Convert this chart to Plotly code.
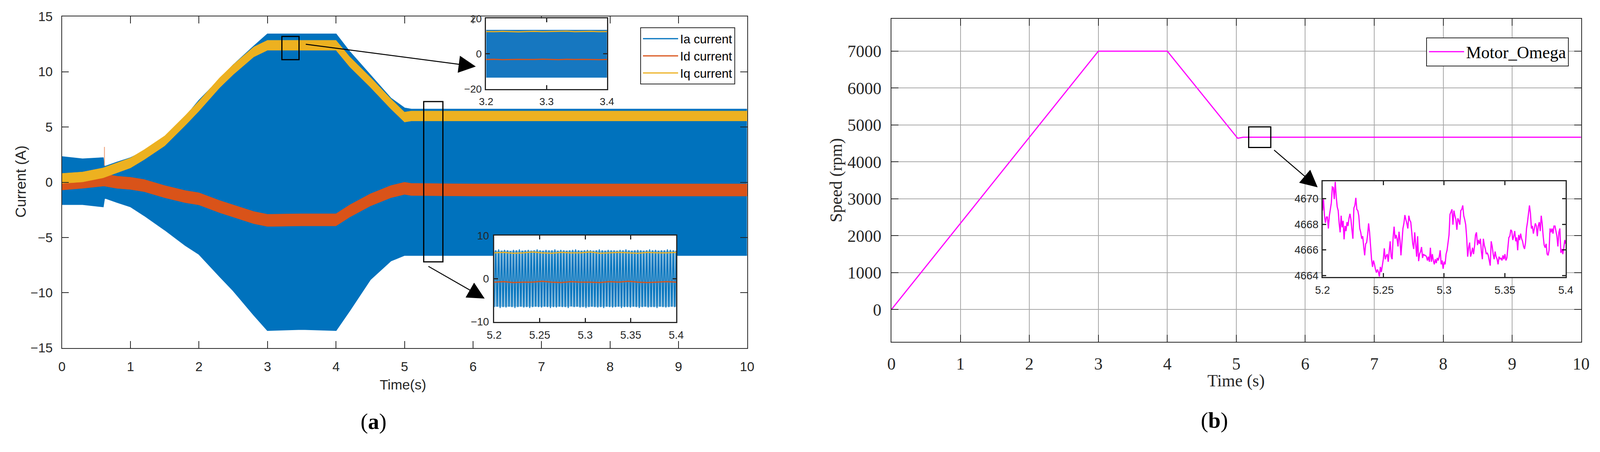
import numpy as np
import plotly.graph_objects as go

# ---------------------------------------------------------------------------
# data
# ---------------------------------------------------------------------------
# (a) phase / dq currents, envelope of the Ia band and centre of the Id, Iq bands
time_env = [0, 0.3, 0.6, 0.62, 0.8, 1.0, 1.2, 1.5, 1.8, 2.0, 2.3, 2.5, 2.8,
            3.0, 3.5, 4.0, 4.2, 4.5, 4.8, 5.0, 5.1, 6, 7, 8, 9, 10]
ia_upper = [2.3, 2.1, 2.2, 1.4, 1.8, 2.2, 2.8, 4.1, 5.9, 7.4, 9.3, 10.6, 12.3,
            13.4, 13.4, 13.4, 11.8, 9.7, 7.6, 6.7, 6.6, 6.6, 6.6, 6.6, 6.6, 6.6]
ia_lower = [-2.0, -2.0, -2.2, -1.4, -1.8, -2.2, -3.0, -4.3, -5.7, -6.5, -8.5, -9.8, -12.0,
            -13.4, -13.3, -13.4, -11.6, -8.8, -7.1, -6.6, -6.6, -6.6, -6.6, -6.6, -6.6, -6.6]
iq_mid = [0.35, 0.48, 0.85, 0.9, 1.3, 1.75, 2.5, 3.75, 5.6, 6.9, 9.0, 10.2, 11.8,
          12.4, 12.4, 12.4, 10.9, 9.06, 7.1, 5.9, 6.0, 6.0, 6.0, 6.0, 6.0, 6.0]
id_mid = [-0.15, 0.0, 0.2, 0.2, 0.0, -0.1, -0.3, -0.85, -1.3, -1.5, -2.2, -2.6, -3.2,
          -3.45, -3.4, -3.4, -2.6, -1.6, -0.85, -0.55, -0.65, -0.7, -0.7, -0.7, -0.7, -0.7]
iq_ripple = 0.45
id_ripple = 0.55
spike_t = [0.62, 0.62]
spike_val = [1.5, 3.2]

# (a) zoom 3.2 - 3.4 s
z1_t = [3.2, 3.4]
z1_ia_top = [13.5, 13.5]
z1_ia_bot = [-13.6, -13.6]
z1_iq = [12.6, 12.5, 12.7, 12.6, 12.4, 12.6, 12.7, 12.5, 12.6, 12.6, 12.8, 12.5, 12.6, 12.7, 12.5, 12.6]
z1_id = [-3.3, -3.2, -3.4, -3.3, -3.2, -3.3, -3.3, -3.1, -3.3, -3.4, -3.2, -3.3, -3.2, -3.3, -3.4, -3.3]

# (a) zoom 5.2 - 5.4 s : Ia peaks (positive / negative), Id, Iq
z2_t = [5.2, 5.4]
z2_ia_band_top = [6.5, 6.5]
z2_ia_band_bot = [-6.5, -6.5]
z2_ia_peaks_pos = [6.6, 6.8, 6.5, 6.7, 6.6, 6.4, 6.7, 6.6, 6.8, 6.5, 6.6, 6.7, 6.5, 6.6, 6.8, 6.6,
                   6.5, 6.7, 6.6, 6.6, 6.8, 6.5, 6.7, 6.6, 6.5, 6.6, 6.7, 6.8, 6.6, 6.5, 6.6, 6.7,
                   6.6, 6.5, 6.6, 6.8, 6.6, 6.5, 6.7, 6.6, 6.6, 6.5, 6.7, 6.6, 6.8, 6.6, 6.5, 6.6,
                   6.7, 6.6, 6.5, 6.6, 6.8, 6.6, 6.7, 6.5, 6.6, 6.6, 6.8, 6.7, 6.6, 6.5]
z2_ia_peaks_neg = [-6.6, -6.5, -6.8, -6.6, -6.7, -6.5, -6.6, -6.8, -6.6, -6.5, -6.7, -6.6, -6.8, -6.6,
                   -6.5, -6.6, -6.7, -6.5, -6.6, -6.8, -6.6, -6.7, -6.5, -6.6, -6.6, -6.8, -6.4, -6.6,
                   -6.5, -6.7, -6.6, -6.8, -6.6, -6.5, -6.6, -6.7, -6.6, -6.8, -6.5, -6.6, -6.7, -6.6,
                   -6.5, -6.8, -6.6, -6.6, -6.7, -6.5, -6.6, -6.8, -6.6, -6.5, -6.7, -6.6, -6.6, -6.8,
                   -6.5, -6.6, -6.7, -6.6, -6.5, -6.6]
z2_iq = [6.0, 6.1, 5.9, 6.0, 6.2, 6.0, 5.9, 6.1, 6.0, 6.0, 6.2, 5.9, 6.0, 6.1, 6.0, 5.9, 6.1, 6.0, 6.0, 6.1]
z2_id = [-0.8, -0.7, -0.9, -0.8, -0.8, -0.6, -0.8, -0.9, -0.7, -0.8, -0.8, -0.9, -0.7, -0.8, -0.6,
         -0.8, -0.9, -0.8, -0.7, -0.8]

# (b) motor speed
speed_t = [0, 3.0, 4.0, 5.02, 5.1, 10]
speed_rpm = [0, 7000, 7000, 4640, 4667, 4667]

# (b) zoom 5.2 - 5.4 s
zs_rpm = [
    4669.07, 4669.97, 4668.67, 4668.12, 4668.57, 4668.57, 4667.67, 4668.67, 4669.17, 4669.67,
    4670.92, 4670.87, 4669.97, 4671.32, 4670.17, 4669.37, 4669.07, 4668.07, 4667.37, 4668.67,
    4667.77, 4668.27, 4666.82, 4667.87, 4667.47, 4668.17, 4667.87, 4668.47, 4668.82, 4668.37,
    4667.57, 4666.87, 4669.27, 4669.47, 4670.07, 4669.17, 4669.07, 4668.67, 4667.67, 4667.37,
    4666.87, 4667.07, 4666.27, 4665.57, 4666.47, 4666.57, 4667.17, 4668.07, 4667.37, 4666.27,
    4665.27, 4664.67, 4665.17, 4664.87, 4664.47, 4664.22, 4664.47, 4664.27, 4663.92, 4664.67,
    4664.27, 4664.77, 4665.27, 4666.12, 4665.27, 4665.52, 4665.67, 4665.07, 4665.87, 4666.67,
    4665.47, 4665.27, 4666.97, 4667.82, 4666.87, 4667.17, 4666.87, 4666.27, 4667.42, 4666.77,
    4665.57, 4666.67, 4667.67, 4668.07, 4668.72, 4668.37, 4668.07, 4667.67, 4668.67, 4668.32,
    4668.17, 4667.37, 4666.47, 4666.07, 4667.37, 4666.47, 4665.47, 4667.07, 4665.12, 4665.67,
    4665.87, 4666.22, 4665.37, 4665.67, 4665.57, 4665.57, 4665.47, 4665.17, 4665.47, 4665.07,
    4666.17, 4665.07, 4665.67, 4665.17, 4664.87, 4665.27, 4664.97, 4665.37, 4665.17, 4665.47,
    4665.97, 4664.87, 4665.17, 4664.52, 4665.07, 4664.87, 4665.67, 4665.97, 4666.52, 4667.17,
    4668.77, 4668.97, 4669.17, 4667.97, 4669.07, 4668.67, 4668.37, 4667.57, 4668.47, 4668.27,
    4667.97, 4669.07, 4669.17, 4669.47, 4668.67, 4668.37, 4667.97, 4666.97, 4665.47, 4666.17,
    4666.57, 4665.47, 4665.77, 4666.17, 4665.67, 4666.27, 4667.17, 4667.37, 4666.37, 4666.77,
    4666.47, 4666.87, 4665.87, 4665.27, 4666.87, 4666.37, 4666.07, 4665.67, 4665.77, 4665.57,
    4665.17, 4664.77, 4666.67, 4666.27, 4665.67, 4665.27, 4665.87, 4665.47, 4665.27, 4664.87,
    4665.47, 4665.27, 4665.37, 4665.17, 4665.57, 4665.27, 4665.67, 4665.17, 4665.37, 4666.27,
    4666.97, 4667.07, 4667.57, 4667.47, 4666.77, 4667.07, 4667.47, 4666.67, 4666.97, 4665.97,
    4667.17, 4666.77, 4667.27, 4666.87, 4666.67, 4666.27, 4666.07, 4666.57, 4667.67, 4668.17,
    4668.87, 4669.47, 4668.87, 4667.67, 4667.87, 4667.27, 4667.67, 4668.07, 4667.87, 4667.07,
    4667.87, 4668.17, 4667.47, 4668.67, 4668.07, 4667.07, 4666.37, 4666.17, 4666.47, 4665.67,
    4665.57, 4665.97, 4667.67, 4667.37, 4667.67, 4667.27, 4667.87, 4667.87, 4667.47, 4667.07,
    4666.27, 4667.37, 4667.67, 4665.77, 4666.07, 4665.67, 4666.17, 4666.77, 4666.47,
]

# ---------------------------------------------------------------------------
# layout helpers: positions are given in pixels of the 4157 x 1157 reference.
# The page is laid out 4096 css px wide (then shown at 4157 px) and the
# body keeps its 8 px margin, so convert reference pixels to css pixels.
# ---------------------------------------------------------------------------
REF_W, REF_H = 4157, 1157
Z = REF_W / 4096
BODY = 8
W = int(round(REF_W / Z - 2 * BODY))
H = int(round(REF_H / Z - 2 * BODY))


def px_x(p):
    return (p / Z - BODY) / W


def px_y(p):
    return 1 - (p / Z - BODY) / H


def sz(v):
    return round(v / Z, 1)


BLUE = "#0072BD"
LIGHT_BLUE = "#8CBDDE"
ORANGE = "#D95319"
YELLOW = "#EDB120"
MAGENTA = "#FF00FF"
SANS = "Liberation Sans, Arial, sans-serif"
SERIF = "Liberation Serif, Times New Roman, serif"

fig = go.Figure()

# ---- (a) main -------------------------------------------------------------
t = np.array(time_env)
fig.add_trace(go.Scatter(x=t, y=ia_upper, mode="lines", line=dict(color=BLUE, width=3),
                         name="Ia current", xaxis="x", yaxis="y"))
fig.add_trace(go.Scatter(x=t, y=ia_lower, mode="lines", line=dict(color=BLUE, width=3),
                         fill="tonexty", fillcolor=BLUE, showlegend=False, xaxis="x", yaxis="y"))

id_arr = np.array(id_mid)
fig.add_trace(go.Scatter(x=np.concatenate([t, t[::-1]]),
                         y=np.concatenate([id_arr + id_ripple, (id_arr - id_ripple)[::-1]]),
                         mode="lines", fill="toself", fillcolor=ORANGE, line=dict(color=ORANGE, width=1),
                         showlegend=False, xaxis="x", yaxis="y"))
fig.add_trace(go.Scatter(x=t, y=id_mid, mode="lines", line=dict(color=ORANGE, width=3),
                         name="Id current", xaxis="x", yaxis="y"))

iq_arr = np.array(iq_mid)
fig.add_trace(go.Scatter(x=np.concatenate([t, t[::-1]]),
                         y=np.concatenate([iq_arr + iq_ripple, (iq_arr - iq_ripple)[::-1]]),
                         mode="lines", fill="toself", fillcolor=YELLOW, line=dict(color=YELLOW, width=1),
                         showlegend=False, xaxis="x", yaxis="y"))
fig.add_trace(go.Scatter(x=t, y=iq_mid, mode="lines", line=dict(color=YELLOW, width=3),
                         name="Iq current", xaxis="x", yaxis="y"))
fig.add_trace(go.Scatter(x=spike_t, y=spike_val, mode="lines", line=dict(color="#EE9A70", width=2),
                         showlegend=False, xaxis="x", yaxis="y"))

# ---- (a) inset 1 ----------------------------------------------------------
fig.add_trace(go.Scatter(x=z1_t + z1_t[::-1], y=z1_ia_top + z1_ia_bot[::-1], mode="lines",
                         fill="toself", fillcolor="#1677C0", line=dict(width=0),
                         showlegend=False, xaxis="x2", yaxis="y2"))
fig.add_trace(go.Scatter(x=np.linspace(z1_t[0], z1_t[-1], len(z1_iq)), y=z1_iq, mode="lines",
                         line=dict(color=YELLOW, width=3), showlegend=False, xaxis="x2", yaxis="y2"))
fig.add_trace(go.Scatter(x=np.linspace(z1_t[0], z1_t[-1], len(z1_id)), y=z1_id, mode="lines",
                         line=dict(color=ORANGE, width=3), showlegend=False, xaxis="x2", yaxis="y2"))

# ---- (a) inset 2 ----------------------------------------------------------
fig.add_trace(go.Scatter(x=z2_t + z2_t[::-1], y=z2_ia_band_top + z2_ia_band_bot[::-1], mode="lines",
                         fill="toself", fillcolor=LIGHT_BLUE, line=dict(width=0),
                         showlegend=False, xaxis="x3", yaxis="y3"))
peaks = [v for pair in zip(z2_ia_peaks_neg, z2_ia_peaks_pos) for v in pair]
fig.add_trace(go.Scatter(x=np.linspace(z2_t[0], z2_t[-1], len(peaks)), y=peaks, mode="lines",
                         line=dict(color=BLUE, width=2.5), showlegend=False, xaxis="x3", yaxis="y3"))
fig.add_trace(go.Scatter(x=np.linspace(z2_t[0], z2_t[-1], len(z2_iq)), y=z2_iq, mode="lines",
                         line=dict(color=YELLOW, width=3), showlegend=False, xaxis="x3", yaxis="y3"))
fig.add_trace(go.Scatter(x=np.linspace(z2_t[0], z2_t[-1], len(z2_id)), y=z2_id, mode="lines",
                         line=dict(color=ORANGE, width=3), showlegend=False, xaxis="x3", yaxis="y3"))

# ---- (b) main + inset -----------------------------------------------------
fig.add_trace(go.Scatter(x=speed_t, y=speed_rpm, mode="lines", line=dict(color=MAGENTA, width=3),
                         name="Motor_Omega", legend="legend2", xaxis="x4", yaxis="y4"))
fig.add_trace(go.Scatter(x=np.linspace(5.2, 5.4, len(zs_rpm)), y=zs_rpm, mode="lines",
                         line=dict(color=MAGENTA, width=3), showlegend=False, xaxis="x5", yaxis="y5"))

# ---------------------------------------------------------------------------
# axes
# ---------------------------------------------------------------------------
def ax_style(font, size, ticklen, lw, grid=False, standoff=0):
    return dict(showline=True, linecolor="#262626", linewidth=lw, mirror="allticks",
                ticks="inside", ticklen=sz(ticklen), tickwidth=lw, tickcolor="#262626",
                showgrid=grid, gridcolor="#a8a8a8", gridwidth=1.5, zeroline=False,
                tickfont=dict(family=font, size=sz(size), color="#262626"),
                ticklabelstandoff=int(sz(standoff)), ticklabeloverflow="allow")


fig.update_layout(
    xaxis=dict(domain=[px_x(161), px_x(1941)], range=[0, 10], dtick=1, anchor="y",
               **ax_style(SANS, 34, 18, 2, standoff=18)),
    yaxis=dict(domain=[px_y(904), px_y(43)], range=[-15, 15], dtick=5, anchor="x",
               **ax_style(SANS, 34, 18, 2, standoff=16)),
    xaxis2=dict(domain=[px_x(1263), px_x(1577)], range=[3.2, 3.4], tickvals=[3.2, 3.3, 3.4],
                anchor="y2", **ax_style(SANS, 27, 10, 2.5, standoff=8)),
    yaxis2=dict(domain=[px_y(231), px_y(48)], range=[-20, 20], tickvals=[-20, 0, 20],
                anchor="x2", **ax_style(SANS, 27, 10, 2.5, standoff=4)),
    xaxis3=dict(domain=[px_x(1284), px_x(1757)], range=[5.2, 5.4],
                tickvals=[5.2, 5.25, 5.3, 5.35, 5.4], anchor="y3",
                **ax_style(SANS, 28, 10, 2.5, standoff=8)),
    yaxis3=dict(domain=[px_y(836), px_y(612)], range=[-10, 10], tickvals=[-10, 0, 10],
                anchor="x3", **ax_style(SANS, 28, 10, 2.5, standoff=6)),
    xaxis4=dict(domain=[px_x(2316), px_x(4108)], range=[0, 10], dtick=1, anchor="y4",
                **ax_style(SERIF, 44, 18, 2, grid=True, standoff=18)),
    yaxis4=dict(domain=[px_y(888), px_y(49)], range=[-875, 7875],
                tickvals=[0, 1000, 2000, 3000, 4000, 5000, 6000, 7000], tickformat="d",
                anchor="x4", **ax_style(SERIF, 44, 18, 2, grid=True, standoff=16)),
    xaxis5=dict(domain=[px_x(3436), px_x(4068)], range=[5.2, 5.4],
                tickvals=[5.2, 5.25, 5.3, 5.35, 5.4], anchor="y5",
                **ax_style(SANS, 28, 10, 2.5, standoff=8)),
    yaxis5=dict(domain=[px_y(719.6), px_y(471)], range=[4663.88, 4671.36],
                tickvals=[4664, 4666, 4668, 4670], tickformat="d", anchor="x5",
                **ax_style(SANS, 28, 10, 2.5, standoff=2)),
)

# ---------------------------------------------------------------------------
# zoom boxes, arrows, labels
# ---------------------------------------------------------------------------
box_style = dict(type="rect", line=dict(color="black", width=3), fillcolor="rgba(0,0,0,0)")
fig.add_shape(xref="x", yref="y", x0=3.21, x1=3.46, y0=11.1, y1=13.2, **box_style)
fig.add_shape(xref="x", yref="y", x0=5.28, x1=5.56, y0=-7.2, y1=7.3, **box_style)
fig.add_shape(xref="x4", yref="y4", x0=5.18, x1=5.5, y0=4390, y1=4950, **box_style)

arrow = dict(text="", showarrow=True, arrowhead=2, arrowsize=3.5, arrowwidth=2.5, arrowcolor="black")
fig.add_annotation(x=6.04, y=10.48, ax=3.55, ay=12.5, xref="x", yref="y", axref="x", ayref="y", **arrow)
fig.add_annotation(x=6.17, y=-10.53, ax=5.34, ay=-7.58, xref="x", yref="y", axref="x", ayref="y", **arrow)
fig.add_annotation(x=6.18, y=3311, ax=5.54, ay=4334, xref="x4", yref="y4", axref="x4", ayref="y4", **arrow)

label = dict(xref="paper", yref="paper", showarrow=False, xanchor="center", yanchor="middle")
fig.add_annotation(text="Current (A)", x=px_x(54), y=px_y(472), textangle=-90,
                   font=dict(family=SANS, size=sz(38), color="#262626"), **label)
fig.add_annotation(text="Time(s)", x=px_x(1047), y=px_y(1000),
                   font=dict(family=SANS, size=sz(36), color="#262626"), **label)
fig.add_annotation(text="Speed (rpm)", x=px_x(2172), y=px_y(468), textangle=-90,
                   font=dict(family=SERIF, size=sz(44), color="#262626"), **label)
fig.add_annotation(text="Time (s)", x=px_x(3212), y=px_y(989),
                   font=dict(family=SERIF, size=sz(44), color="#262626"), **label)
fig.add_annotation(text="(<b>a</b>)", x=px_x(971), y=px_y(1095),
                   font=dict(family=SERIF, size=sz(58), color="black"), **label)
fig.add_annotation(text="(<b>b</b>)", x=px_x(3155), y=px_y(1092),
                   font=dict(family=SERIF, size=sz(58), color="black"), **label)

fig.update_layout(
    width=W, height=H, autosize=False,
    margin=dict(l=0, r=0, t=0, b=0),
    paper_bgcolor="white", plot_bgcolor="white",
    template="none",
    legend=dict(x=px_x(1910), xanchor="right", y=px_y(71), yanchor="top", traceorder="normal",
                bgcolor="white", bordercolor="#262626", borderwidth=2,
                font=dict(family=SANS, size=sz(32), color="black"), itemwidth=90),
    legend2=dict(x=px_x(4076), xanchor="right", y=px_y(97), yanchor="top",
                 bgcolor="white", bordercolor="#262626", borderwidth=2,
                 font=dict(family=SERIF, size=sz(44), color="black"), itemwidth=90),
)

fig.write_html("out.html")
